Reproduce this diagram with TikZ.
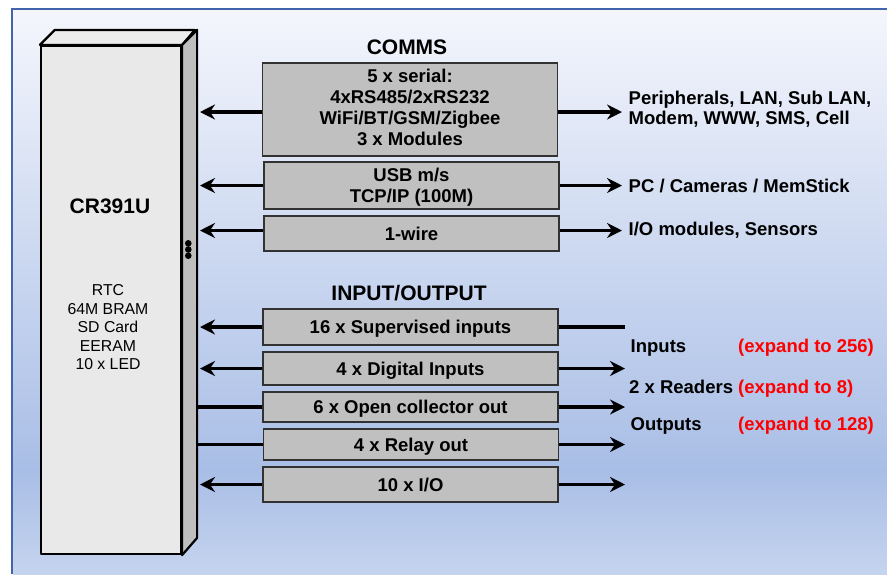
\documentclass[tikz,border=0pt]{standalone}
\usepackage{fontspec}
\setmainfont{Liberation Sans}
\usetikzlibrary{arrows.meta,calc}
\definecolor{frameblue}{RGB}{65,100,170}
\definecolor{bgtop}{RGB}{244,246,252}
\definecolor{bgmid}{RGB}{169,190,230}
\definecolor{bgbot}{RGB}{197,212,238}
\definecolor{boxgray}{RGB}{192,192,192}
\definecolor{boxline}{RGB}{50,50,50}
\definecolor{cpufront}{RGB}{233,233,233}
\definecolor{cpuside}{RGB}{190,190,190}
\definecolor{cputop}{RGB}{236,236,236}
\definecolor{expandred}{RGB}{255,0,0}
\newcommand\dgBody{\fontsize{18.5}{21}\selectfont\bfseries}
\newcommand\dgLbl{\fontsize{18.5}{20}\selectfont\bfseries}
\newcommand\dgHead{\fontsize{21}{24}\selectfont\bfseries}
\newcommand\dgSmall{\fontsize{15.8}{18.5}\selectfont}
\tikzset{
  iobox/.style={draw=boxline, line width=1.3pt, fill=boxgray, minimum width=295pt, inner sep=0pt, font=\dgBody},
  conn/.style={line width=3.2pt},
  tip/.style={conn, -{Stealth[length=15pt,width=15pt,inset=5pt]}},
  lbl/.style={font=\dgLbl, inner sep=0pt, anchor=base west},
  redlbl/.style={lbl, text=expandred},
  cpuface/.style={draw=black, line width=2.2pt, line join=round}
}
\begin{document}
\begin{tikzpicture}[x=1pt,y=-1pt]
\useasboundingbox (0,0) rectangle (887,574);
\fill[white] (0,0) rectangle (887,574);
\shade[top color=bgtop, bottom color=bgmid] (13,10) rectangle (887,470);
\shade[top color=bgmid, bottom color=bgbot] (13,470) rectangle (887,574);
\draw[frameblue, line width=2.2pt] (12,574) -- (12,9) -- (887,9);

% CPU block
\node[cpuface, fill=cpufront, minimum width=140pt, minimum height=508pt, inner sep=0pt] (cpu) at (111,300) {};
\draw[cpuface, fill=cputop] (cpu.north west) -- ++(15,-15) -- ++(140,0) -- (cpu.north east) -- cycle;
\draw[cpuface, fill=cpuside] (cpu.north east) -- ++(15,-15) -- ++(0,508) -- (cpu.south east) -- cycle;
\fill (188.3,243.3) circle (3.3pt);
\fill (188.3,249.5) circle (3.3pt);
\fill (188.3,255.7) circle (3.3pt);
\node[font=\dgHead, anchor=base, inner sep=0pt] (cpuname) at (110,213) {CR391U};
\node[font=\dgSmall, align=center, inner sep=0pt] (cpuinfo) at (108,327.3) {RTC\\64M BRAM\\SD Card\\EERAM\\10 x LED};

% headings
\node[font=\dgHead, anchor=base, inner sep=0pt] (comms) at (407,54) {COMMS};
\node[font=\dgHead, anchor=base, inner sep=0pt] (iohead) at (409,300) {INPUT/OUTPUT};

% connector end coordinates
\coordinate (Ltip) at (200,0);
\coordinate (Lend) at (198,0);
\coordinate (Rtip) at (622,0);
\coordinate (Rtip2) at (625,0);

% box positions
\path (410,109.5) coordinate (pserial) (411.5,185.5) coordinate (pusb) (411.5,233.5) coordinate (pwire);

% connectors COMMS
\coordinate (sl) at ($(pserial)+(-147,2.5)$);
\coordinate (sr) at ($(pserial)+(147,2.5)$);
\coordinate (ul) at ($(pusb)+(-147.5,0)$);
\coordinate (ur) at ($(pusb)+(147.5,0)$);
\coordinate (wl) at ($(pwire)+(-147.5,-3)$);
\coordinate (wr) at ($(pwire)+(147.5,-3)$);
\draw[tip] (sl) -- (sl -| Ltip);
\draw[tip] (sr) -- (sr -| Rtip);
\draw[tip] (ul) -- (ul -| Ltip);
\draw[tip] (ur) -- (ur -| Rtip);
\draw[tip] (wl) -- (wl -| Ltip);
\draw[tip] (wr) -- (wr -| Rtip);

\node[iobox, minimum height=93pt, align=center, text depth=5pt] (serial) at (pserial) {5 x serial:\\4xRS485/2xRS232\\WiFi/BT/GSM/Zigbee\\3 x Modules};
\node[iobox, minimum height=47pt, align=center, text depth=0pt] (usb) at (pusb) {USB m/s\\TCP/IP (100M)};
\node[iobox, minimum height=35pt, text height=13.3pt, text depth=0pt] (wire) at (pwire) {1-wire};

% IO boxes
\node[iobox, minimum height=36pt, text height=13.3pt, text depth=0pt] (sup) at (410.5,327) {16 x Supervised inputs};
\node[iobox, minimum height=33pt, text height=13.3pt, text depth=0pt] (dig) at (410.5,368.5) {4 x Digital Inputs};
\node[iobox, minimum height=30pt, text height=13.3pt, text depth=0pt] (oc) at (410.5,407) {6 x Open collector out};
\node[iobox, minimum height=31pt, text height=13.3pt, text depth=0pt] (rel) at (411,444.5) {4 x Relay out};
\node[iobox, minimum height=35pt, text height=13.3pt, text depth=0pt] (tenio) at (410.5,484.5) {10 x I/O};

\draw[tip] (sup.west) -- (sup.west -| Ltip);
\draw[conn] (sup.east) -- (sup.east -| Rtip2);
\draw[tip] (dig.west) -- (dig.west -| Ltip);
\draw[tip] (dig.east) -- (dig.east -| Rtip2);
\draw[conn] (oc.west) -- (oc.west -| Lend);
\draw[tip] (oc.east) -- (oc.east -| Rtip2);
\draw[conn] (rel.west) -- (rel.west -| Lend);
\draw[tip] (rel.east) -- (rel.east -| Rtip2);
\draw[tip] (tenio.west) -- (tenio.west -| Ltip);
\draw[tip] (tenio.east) -- (tenio.east -| Rtip2);

% right labels
\node[font=\dgLbl, inner sep=0pt, align=left, anchor=west] (periph) at (628.5,109) {Peripherals, LAN, Sub LAN,\\Modem, WWW, SMS, Cell};
\node[lbl] (pc) at (628.5,192) {PC / Cameras / MemStick};
\node[lbl] (iomod) at (628.5,235) {I/O modules, Sensors};
\node[lbl] (inputs) at (630.5,352.5) {Inputs};
\node[lbl] (readers) at (629,393) {2 x Readers};
\node[lbl] (outputs) at (630.5,430.5) {Outputs};
\node[redlbl] (exin) at (738,352.5) {(expand to 256)};
\node[redlbl] (exrd) at (738,393) {(expand to 8)};
\node[redlbl] (exout) at (738,430.5) {(expand to 128)};
\end{tikzpicture}
\end{document}
